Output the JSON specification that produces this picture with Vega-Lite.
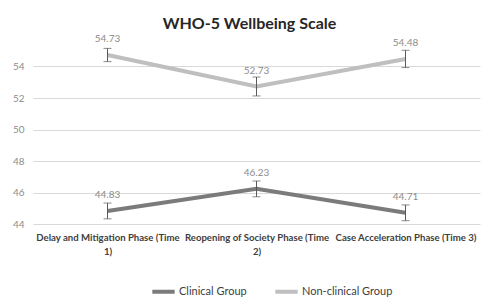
{
  "$schema": "https://vega.github.io/schema/vega-lite/v6.json",
  "autosize": "none",
  "width": 447,
  "height": 189,
  "padding": {"left": 33, "top": 35, "right": 5, "bottom": 74},
  "background": "white",
  "title": {"text": "WHO-5 Wellbeing Scale", "fontSize": 16, "font": "Lato", "fontWeight": "bold", "color": "#262626", "anchor": "middle", "dx": -7, "offset": 2, "frame": "group"},
  "config": {"view": {"stroke": null}, "font": "Lato",
    "axisY": {"title": null, "grid": true, "gridColor": "#d9d9d9", "domain": false, "ticks": false, "labelColor": "#8c8c8c", "labelFontSize": 10, "labelPadding": 9, "labelOverlap": false, "labelBound": false, "labelFlush": false}},
  "data": {"values": [
    {"group": "Clinical Group", "phase": "Delay and Mitigation Phase (Time 1)", "mean": 44.83, "lo": 44.33, "hi": 45.33},
    {"group": "Clinical Group", "phase": "Reopening of Society Phase (Time 2)", "mean": 46.23, "lo": 45.73, "hi": 46.73},
    {"group": "Clinical Group", "phase": "Case Acceleration Phase (Time 3)", "mean": 44.71, "lo": 44.21, "hi": 45.21},
    {"group": "Non-clinical Group", "phase": "Delay and Mitigation Phase (Time 1)", "mean": 54.73, "lo": 54.31, "hi": 55.15},
    {"group": "Non-clinical Group", "phase": "Reopening of Society Phase (Time 2)", "mean": 52.73, "lo": 52.13, "hi": 53.33},
    {"group": "Non-clinical Group", "phase": "Case Acceleration Phase (Time 3)", "mean": 54.48, "lo": 53.93, "hi": 55.03}
  ]},
  "encoding": {
    "x": {
      "field": "phase", "type": "nominal",
      "sort": ["Delay and Mitigation Phase (Time 1)", "Reopening of Society Phase (Time 2)", "Case Acceleration Phase (Time 3)"],
      "scale": {"type": "point", "padding": 0.5},
      "axis": {
        "title": null, "labelAngle": 0, "ticks": false, "domain": false, "grid": false,
        "labelFontSize": 9.6, "labelColor": "#404040", "labelFontWeight": "bold",
        "labelPadding": 8, "labelBaseline": "top", "labelLineHeight": 14,
        "labelOverlap": false, "labelBound": false, "labelFlush": false,
        "labelExpr": "datum.value == 'Delay and Mitigation Phase (Time 1)' ? ['Delay and Mitigation Phase (Time', '1)'] : datum.value == 'Reopening of Society Phase (Time 2)' ? ['Reopening of Society Phase (Time', '2)'] : datum.value"
      }
    }
  },
  "layer": [
    {
      "mark": {"type": "line", "strokeWidth": 4},
      "encoding": {
        "y": {"field": "mean", "type": "quantitative", "scale": {"domain": [44, 56], "nice": false, "zero": false},
          "axis": {"values": [44, 46, 48, 50, 52, 54]}},
        "color": {"field": "group", "type": "nominal",
          "scale": {"domain": ["Clinical Group", "Non-clinical Group"], "range": ["#7b7b7b", "#bfbfbf"]},
          "legend": {"orient": "none", "legendX": 117, "legendY": 243, "direction": "horizontal", "title": null, "symbolType": "stroke", "symbolStrokeWidth": 4, "symbolSize": 500, "labelFontSize": 11, "labelColor": "#404040", "columnPadding": 20, "labelOffset": 2}}
      }
    },
    {
      "mark": {"type": "rule", "color": "#595959", "strokeWidth": 1},
      "encoding": {"y": {"field": "lo", "type": "quantitative", "axis": {"values": [44, 46, 48, 50, 52, 54]}}, "y2": {"field": "hi"}}
    },
    {
      "mark": {"type": "tick", "color": "#595959", "size": 8, "thickness": 1},
      "encoding": {"y": {"field": "lo", "type": "quantitative", "axis": {"values": [44, 46, 48, 50, 52, 54]}}}
    },
    {
      "mark": {"type": "tick", "color": "#595959", "size": 8, "thickness": 1},
      "encoding": {"y": {"field": "hi", "type": "quantitative", "axis": {"values": [44, 46, 48, 50, 52, 54]}}}
    },
    {
      "mark": {"type": "text", "dy": -16, "baseline": "middle", "color": "#8c8c8c", "fontSize": 10},
      "encoding": {"y": {"field": "mean", "type": "quantitative", "axis": {"values": [44, 46, 48, 50, 52, 54]}}, "text": {"field": "mean", "type": "quantitative", "format": ".2f"}}
    }
  ]
}
